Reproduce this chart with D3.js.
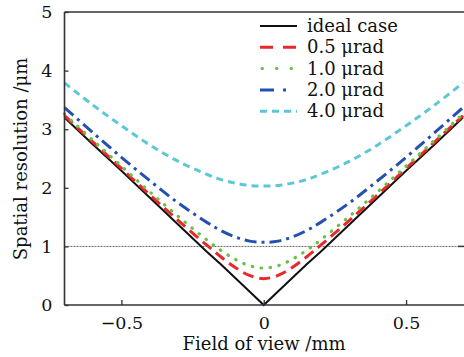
<!DOCTYPE html>
<html><head><meta charset="utf-8">
<script src="https://cdn.jsdelivr.net/npm/d3@7"></script>
<style>body{margin:0;background:#fff}svg{display:block}text{font-family:"DejaVu Serif",serif;fill:#111}</style>
</head><body>
<script>
const fov = [-0.7,-0.6,-0.5,-0.4,-0.3,-0.2,-0.15,-0.1,-0.05,0,0.05,0.1,0.15,0.2,0.3,0.4,0.5,0.6,0.7];
const ideal = [3.2,2.74,2.29,1.83,1.37,0.91,0.69,0.46,0.23,0,0.23,0.46,0.69,0.91,1.37,1.83,2.29,2.74,3.2];
const urad05 = [3.23,2.78,2.33,1.88,1.44,1.02,0.82,0.64,0.505,0.45,0.505,0.64,0.82,1.02,1.44,1.88,2.33,2.78,3.23];
const urad10 = [3.26,2.81,2.37,1.93,1.51,1.11,0.93,0.78,0.67,0.63,0.67,0.78,0.93,1.11,1.51,1.93,2.37,2.81,3.26];
const urad20 = [3.37,2.94,2.52,2.12,1.74,1.41,1.27,1.16,1.09,1.07,1.09,1.16,1.27,1.41,1.74,2.12,2.52,2.94,3.37];
const urad40 = [3.79,3.41,3.06,2.73,2.45,2.23,2.14,2.08,2.04,2.03,2.04,2.08,2.14,2.23,2.45,2.73,3.06,3.41,3.79];
const seriesNames = ["ideal case","0.5 μrad","1.0 μrad","2.0 μrad","4.0 μrad"];
const xTicks = [-0.5,0,0.5];
const yTicks = [0,1,2,3,4,5];
const refLevel = 1;

const W=464,H=357;
const m={l:64.5,t:12,r:463,b:305};
const svg=d3.select("body").append("svg").attr("width",W).attr("height",H);
const x=d3.scaleLinear().domain([-0.7,0.7]).range([m.l,m.r]);
const y=d3.scaleLinear().domain([0,5]).range([m.b,m.t]);

const styles=[
 {c:"#111",w:2,d:null},
 {c:"#e8282a",w:3,d:"11,6"},
 {c:"#6dbe45",w:3,d:"2.5,7"},
 {c:"#2450b0",w:3,d:"12,5,3,5"},
 {c:"#5cc8d6",w:3,d:"7,5"}
];
const data=[ideal,urad05,urad10,urad20,urad40];

// reference line
svg.append("line").attr("x1",m.l).attr("x2",m.r).attr("y1",y(refLevel)).attr("y2",y(refLevel))
 .attr("stroke","#666").attr("stroke-width",1).attr("stroke-dasharray","2,1");
svg.append("line").attr("x1",m.r-5).attr("x2",m.r+2).attr("y1",y(refLevel)).attr("y2",y(refLevel))
 .attr("stroke","#333").attr("stroke-width",1.5);

data.forEach((s,k)=>{
  const st=styles[k];
  const ln = k===0 ? d3.line().x((d,i)=>x(fov[i])).y(d=>y(d)) : d3.line().x((d,i)=>x(fov[i])).y(d=>y(d)).curve(d3.curveCatmullRom);
  const p=svg.append("path").datum(s).attr("d",ln).attr("fill","none")
   .attr("stroke",st.c).attr("stroke-width",st.w).attr("stroke-linecap","butt");
  if(st.d) p.attr("stroke-dasharray",st.d);
  if(k===2) p.attr("stroke-linecap","round").attr("stroke-dasharray","0.5,8.5").attr("stroke-width",3.2);
});

// frame
const ax=svg.append("g").attr("stroke","#333").attr("stroke-width",1.6);
ax.append("line").attr("x1",m.l).attr("x2",m.l).attr("y1",m.t).attr("y2",m.b);
ax.append("line").attr("x1",m.l).attr("x2",W).attr("y1",m.b).attr("y2",m.b);
ax.append("line").attr("x1",m.l).attr("x2",W).attr("y1",m.t).attr("y2",m.t);

// axes
const xa=svg.append("g").attr("transform",`translate(0,${m.b})`)
 .call(d3.axisBottom(x).tickValues(xTicks).tickSize(-5).tickPadding(12).tickFormat(d=>d===0?"0":(d<0?"−":"")+Math.abs(d)));
const ya=svg.append("g").attr("transform",`translate(${m.l},0)`)
 .call(d3.axisLeft(y).tickValues(yTicks).tickSize(-4).tickPadding(12).tickFormat(d3.format("d")));
[xa,ya].forEach(g=>{g.select(".domain").remove();g.selectAll("line").attr("stroke","#333").attr("stroke-width",1.3);
 g.selectAll("text").attr("font-family","DejaVu Serif").attr("font-size",17.5).attr("fill","#111");});

// titles
svg.append("text").attr("x",264).attr("y",350).attr("text-anchor","middle").attr("font-size",18).text("Field of view /mm");
svg.append("text").attr("transform","translate(27,159) rotate(-90)").attr("text-anchor","middle").attr("font-size",18).text("Spatial resolution /μm");

// legend
const lg=svg.append("g");
seriesNames.forEach((n,k)=>{
  const cy=26+k*21.3, st=styles[k];
  const l=lg.append("line").attr("x1",260).attr("x2",297).attr("y1",cy).attr("y2",cy)
   .attr("stroke",st.c).attr("stroke-width",st.w);
  if(k===1) l.attr("stroke-dasharray","13,10");
  if(k===2) l.attr("stroke-linecap","round").attr("stroke-dasharray","0.5,14").attr("x1",262);
  if(k===3) l.attr("stroke-dasharray","14,9,3,20");
  if(k===4) l.attr("stroke-dasharray","7,5");
  lg.append("text").attr("x",307).attr("y",cy+6).attr("font-size",18).text(n);
});
</script>
</body></html>
